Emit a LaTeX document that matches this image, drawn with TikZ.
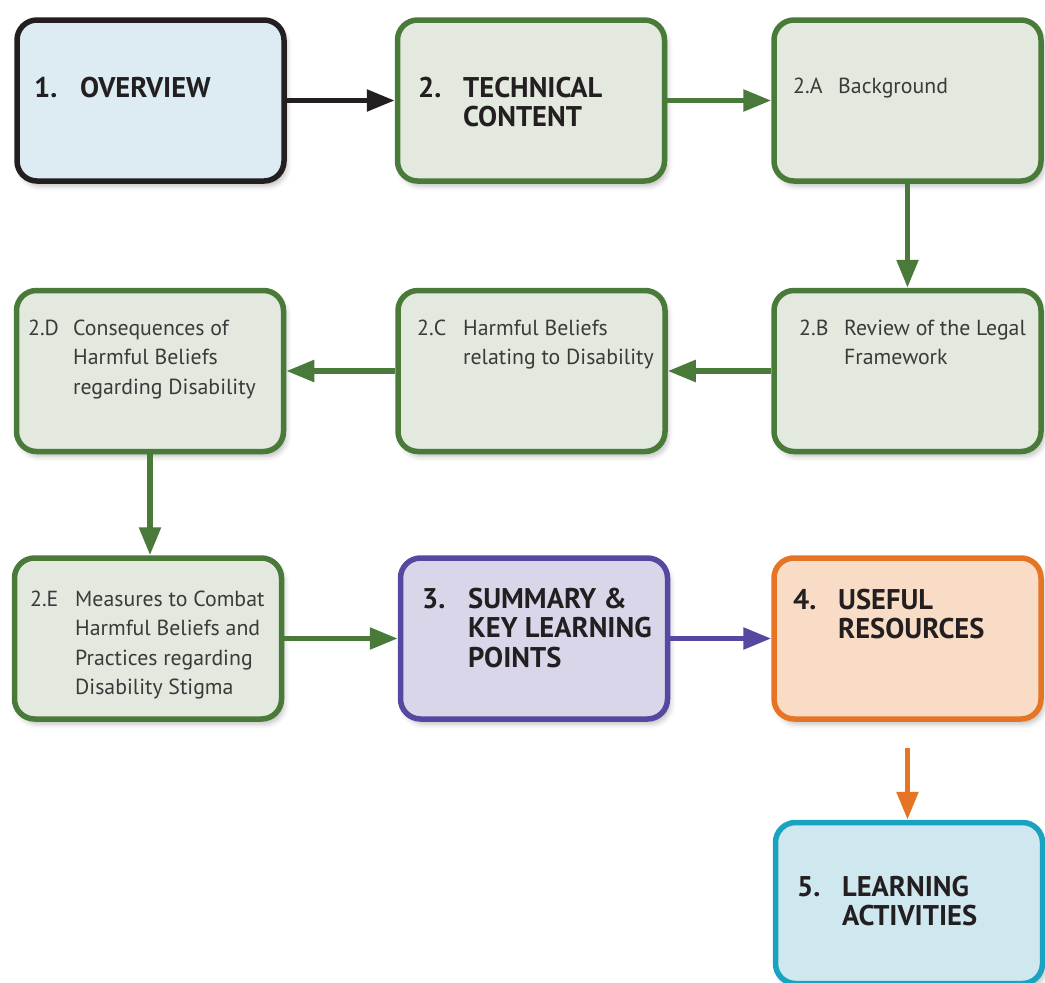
\documentclass[tikz,border=0pt]{standalone}
\usepackage{fontspec}
\setmainfont{PT Sans}
\usetikzlibrary{arrows.meta,shadows.blur}
\definecolor{gline}{HTML}{4A7A3A}
\definecolor{gfill}{HTML}{E3E9DF}
\definecolor{bfill}{HTML}{DCECF2}
\definecolor{pline}{HTML}{5448A0}
\definecolor{pfill}{HTML}{DAD6EA}
\definecolor{oline}{HTML}{E57424}
\definecolor{ofill}{HTML}{F9DCC5}
\definecolor{tline}{HTML}{1AA3C0}
\definecolor{tfill}{HTML}{CFE7EF}
\definecolor{ink}{HTML}{231F20}
\definecolor{lightink}{HTML}{3A3A3A}
\newcommand{\lns}[1]{\begin{tabular}[t]{@{}l@{}}#1\end{tabular}}
\begin{document}
\begin{tikzpicture}[x=1pt,y=-1pt,
  box/.style={rounded corners=20pt, line width=5.5pt, minimum width=267pt, minimum height=161pt, inner sep=0pt,
    blur shadow={shadow xshift=3pt, shadow yshift=-5pt, shadow blur radius=5pt, shadow opacity=25}},
  gbox/.style={box, draw=gline, fill=gfill},
  bt/.style={anchor=base west, inner sep=0pt, text=ink, font=\fontsize{28.5}{29.5}\selectfont\bfseries},
  lt/.style={anchor=base west, inner sep=0pt, text=lightink, font=\fontsize{21.8}{29.5}\selectfont},
  arr/.style={line width=5.5pt, -{Triangle[length=28pt,width=21pt]}}]
\useasboundingbox (0,0) rectangle (1045,983);
\clip (0,0) rectangle (1045,983);
% boxes
\node[box, draw=ink, fill=bfill] (b1) at (150.5,100.5) {};
\node[gbox] (b2) at (531,100.5) {};
\node[gbox] (b2A) at (907.5,100.5) {};
\node[gbox] (b2B) at (907.5,371) {};
\node[gbox] (b2C) at (531.5,371) {};
\node[gbox] (b2D) at (150,371) {};
\node[gbox] (b2E) at (148,638.5) {};
\node[box, draw=pline, fill=pfill] (b3) at (534,638.5) {};
\node[box, draw=oline, fill=ofill] (b4) at (907.5,638.5) {};
\node[box, draw=tline, fill=tfill] (b5) at (909,903) {};
% texts
\node[bt] (n1) at (34,97) {1.};
\node[bt] (t1) at (80,97) {OVERVIEW};
\node[bt] (n2) at (418,97) {2.};
\node[bt] (t2) at (463,97) {\lns{TECHNICAL\\CONTENT}};
\node[lt] (n2A) at (793,93) {2.A};
\node[lt] (t2A) at (838,93) {Background};
\node[lt] (n2B) at (799,335) {2.B};
\node[lt] (t2B) at (844,335) {\lns{Review of the Legal\\Framework}};
\node[lt] (n2C) at (417,335) {2.C};
\node[lt] (t2C) at (463,335) {\lns{Harmful Beliefs\\relating to Disability}};
\node[lt] (n2D) at (28,335) {2.D};
\node[lt] (t2D) at (73,335) {\lns{Consequences of\\Harmful Beliefs\\regarding Disability}};
\node[lt] (n2E) at (30,606) {2.E};
\node[lt] (t2E) at (75,606) {\lns{Measures to Combat\\Harmful Beliefs and\\Practices regarding\\Disability Stigma}};
\node[bt] (n3) at (422,608) {3.};
\node[bt] (t3) at (468,608) {\lns{SUMMARY \&\\KEY LEARNING\\POINTS}};
\node[bt] (n4) at (793,609) {4.};
\node[bt] (t4) at (838,609) {\lns{USEFUL\\RESOURCES}};
\node[bt] (n5) at (797,896) {5.};
\node[bt] (t5) at (842,896) {\lns{LEARNING\\ACTIVITIES}};
% connectors
\draw[arr, draw=ink, fill=ink] (b1.east) -- (b2.west);
\draw[arr, draw=gline, fill=gline] (b2.east) -- (b2A.west);
\draw[arr, draw=gline, fill=gline] (b2A.south) -- (b2B.north);
\draw[arr, draw=gline, fill=gline] (b2B.west) -- (b2C.east);
\draw[arr, draw=gline, fill=gline] (b2C.west) -- (b2D.east);
\draw[arr, draw=gline, fill=gline] (b2D.south) -- (b2D.south |- b2E.north);
\draw[arr, draw=gline, fill=gline] (b2E.east) -- (b3.west);
\draw[arr, draw=pline, fill=pline] (b3.east) -- (b4.west);
\draw[arr, draw=oline, fill=oline, shorten <=26pt] (b4.south) -- (b4.south |- b5.north);
\end{tikzpicture}
\end{document}
